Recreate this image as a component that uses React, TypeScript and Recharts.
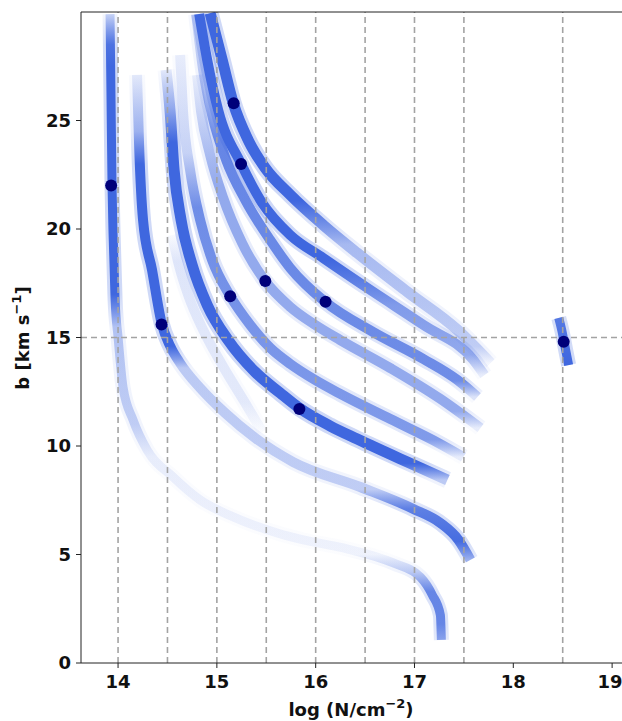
import { ComposedChart, Line, Scatter, XAxis, YAxis, ReferenceLine } from 'recharts'

// log N (x) vs b (y) along each posterior band
const bandA = [[13.919, 29.9], [13.929, 25.94], [13.939, 22.03], [13.949, 19.86], [13.97, 16.73], [14.0, 15.02], [14.05, 12.72], [14.152, 11.2], [14.294, 9.82], [14.557, 8.57], [14.831, 7.51], [15.165, 6.73], [15.611, 5.99], [15.874, 5.67], [16.28, 5.3], [16.786, 4.61], [17.06, 3.96], [17.181, 3.13], [17.262, 2.21], [17.272, 1.06]]
const bandB = [[14.192, 27.1], [14.213, 23.87], [14.253, 20.41], [14.344, 18.11], [14.443, 15.62], [14.527, 14.61], [14.628, 13.82], [14.831, 12.67], [15.084, 11.52], [15.388, 10.37], [15.773, 9.26], [16.452, 8.11], [16.989, 7.1], [17.262, 6.45], [17.445, 5.67], [17.566, 4.75]]
const bandG = [[14.547, 19.72], [14.608, 18.48], [14.709, 16.96], [14.861, 15.35], [15.054, 13.73], [15.287, 11.98], [15.459, 10.65]]
const bandH = [[14.486, 27.33], [14.527, 25.39], [14.567, 22.72], [14.638, 20.41], [14.75, 18.34], [14.902, 16.5], [15.114, 14.88], [15.388, 13.41], [15.641, 12.44], [15.834, 11.75], [16.148, 10.92], [16.421, 10.32], [16.928, 9.26], [17.333, 8.43]]
const bandU5 = [[14.628, 28.02], [14.658, 25.39], [14.729, 22.72], [14.831, 20.41], [14.952, 18.57], [15.135, 16.91], [15.337, 15.58], [15.54, 14.52], [15.743, 13.78], [15.995, 13.04], [16.249, 12.4], [16.756, 11.24], [17.262, 10.09], [17.495, 9.49]]
const bandU4 = [[14.8, 27.1], [14.841, 25.39], [14.932, 23.41], [15.064, 21.43], [15.256, 19.35], [15.489, 17.6], [15.743, 16.41], [15.995, 15.58], [16.249, 14.88], [16.756, 13.59], [17.262, 12.17], [17.668, 10.83]]
const bandF = [[14.79, 29.9], [14.861, 27.33], [14.952, 25.25], [15.094, 23.18], [15.287, 21.34], [15.54, 19.49], [15.743, 18.2], [16.097, 16.64], [16.583, 15.25], [17.09, 14.01], [17.435, 13.04], [17.637, 12.26]]
const bandE = [[14.821, 29.91], [14.902, 27.79], [15.013, 25.48], [15.246, 23.0], [15.459, 21.2], [15.743, 19.72], [16.077, 18.66], [16.583, 17.1], [17.09, 15.58], [17.597, 13.96], [17.708, 13.27]]
const bandD = [[14.932, 29.95], [15.054, 27.79], [15.165, 25.81], [15.317, 24.1], [15.489, 22.81], [15.743, 21.57], [16.077, 20.18], [16.421, 18.89], [16.928, 17.1], [17.435, 15.35], [17.769, 13.82]]
const blob = [[18.46, 15.9], [18.49, 15.35], [18.53, 14.42], [18.56, 13.73]]

// true values (navy dots)
const dotN = [13.93, 14.44, 15.135, 15.17, 15.245, 15.49, 15.835, 16.1, 18.51]
const dotB = [22.0, 15.6, 16.9, 25.8, 23.0, 17.6, 11.7, 16.65, 14.8]

const xTicks = [14, 15, 16, 17, 18, 19]
const yTicks = [0, 5, 10, 15, 20, 25]
const guideN = [14, 14.5, 15, 15.5, 16, 16.5, 17, 17.5, 18.5]
const guideB = [15]

const BLUE = '#3f67df'
const GUIDE = '#a3a3a3'
const FONT = 'DejaVu Sans'

// how dense each band looks, as [b, opacity] stops down the band
const bands = [
  { id: 'A', data: bandA, w: 9, fade: [[29.9, 0.25], [28.5, 0.9], [27.5, 1], [17, 1], [15.5, 0.35], [11, 0.28], [9.5, 0.1], [5, 0.07], [4.2, 0.3], [3.3, 0.75], [1.8, 0.75], [1.06, 0.55]] },
  { id: 'B', data: bandB, w: 10, fade: [[27.1, 0.12], [24.5, 0.45], [23, 1], [14.6, 1], [13.6, 0.3], [8, 0.28], [7.1, 0.8], [5.6, 0.95], [4.75, 0.45]] },
  { id: 'G', data: bandG, w: 10, fade: [[19.72, 0.03], [18.5, 0.14], [12, 0.12], [10.65, 0.02]] },
  { id: 'H', data: bandH, w: 11, fade: [[27.33, 0.12], [25.6, 0.5], [24, 1], [9.2, 1], [8.43, 0.3]] },
  { id: 'U5', data: bandU5, w: 10, fade: [[28.02, 0.1], [23.5, 0.25], [21, 0.7], [10.3, 0.6], [9.49, 0.1]] },
  { id: 'U4', data: bandU4, w: 10, fade: [[27.1, 0.1], [24.5, 0.3], [22, 0.5], [11.6, 0.5], [10.83, 0.1]] },
  { id: 'F', data: bandF, w: 10, fade: [[29.9, 0.2], [26.5, 0.35], [24, 0.75], [13, 0.7], [12.26, 0.15]] },
  { id: 'E', data: bandE, w: 10, fade: [[29.91, 1], [18.6, 1], [16.5, 0.6], [14.2, 0.5], [13.27, 0.1]] },
  { id: 'D', data: bandD, w: 11, fade: [[29.95, 1], [21.3, 1], [19.3, 0.4], [14.6, 0.28], [13.82, 0.05]] },
  { id: 'blob', data: blob, w: 9, fade: [[15.9, 0.85], [13.73, 1]] },
]

const toPts = (arr: number[][]) => arr.map(([n, b]) => ({ n, b }))
const dots = dotN.map((n, i) => ({ n, b: dotB[i] }))

function BandGradients() {
  return (
    <svg width={0} height={0} style={{ position: 'absolute' }}>
      <defs>
        {bands.map((s) => {
          const top = s.data[0][1]
          const bottom = s.data[s.data.length - 1][1]
          return (
            <linearGradient key={s.id} id={'grad' + s.id} x1="0" y1="0" x2="0" y2="1">
              {s.fade.map(([b, op], i) => (
                <stop key={i} offset={(top - b) / (top - bottom)} stopColor={BLUE} stopOpacity={op} />
              ))}
            </linearGradient>
          )
        })}
      </defs>
    </svg>
  )
}

const tickStyle = { fill: '#111', fontSize: 18, fontWeight: 'bold', fontFamily: FONT }

function XTick(props: any) {
  const { x, y, payload } = props
  const shift = payload.value === 19 ? -2 : 0
  return (
    <text x={x + shift} y={y} dy="0.71em" textAnchor="middle" {...tickStyle}>
      {payload.value}
    </text>
  )
}

function XTitle() {
  return (
    <text x={351} y={716} textAnchor="middle" fontFamily={FONT} fontWeight="bold" fontSize={18} fill="#111">
      log (N/cm<tspan dy={-8} fontSize={13}>−2</tspan>
      <tspan dy={8}>)</tspan>
    </text>
  )
}

function YTitle() {
  return (
    <text
      x={29}
      y={338}
      transform="rotate(-90, 29, 338)"
      textAnchor="middle"
      fontFamily={FONT}
      fontWeight="bold"
      fontSize={18}
      fill="#111"
    >
      b [km s<tspan dy={-8} fontSize={13}>−1</tspan>
      <tspan dy={8}>]</tspan>
    </text>
  )
}

export default function App() {
  return (
    <div style={{ position: 'absolute', left: 0, top: 0, width: 622, height: 721, background: '#fff' }}>
      <BandGradients />
      <ComposedChart width={622} height={721} margin={{ top: 12, right: 0, bottom: 0, left: 0 }}>
        <XAxis
          dataKey="n"
          type="number"
          domain={[13.625, 19.1]}
          allowDataOverflow
          ticks={xTicks}
          height={58}
          tickSize={5}
          tickMargin={7}
          stroke="#222"
          tick={<XTick />}
          label={{ content: () => <XTitle /> }}
        />
        <YAxis
          dataKey="b"
          type="number"
          domain={[0, 30]}
          allowDataOverflow
          ticks={yTicks}
          width={81}
          tickSize={5}
          tickMargin={5}
          stroke="#222"
          tick={tickStyle}
          label={{ content: () => <YTitle /> }}
        />
        {bands.map((s) => (
          <Line
            key={s.id + '-halo'}
            data={toPts(s.data)}
            dataKey="b"
            type="monotone"
            stroke={`url(#grad${s.id})`}
            strokeOpacity={0.25}
            strokeWidth={s.w + 6}
            dot={false}
            activeDot={false}
            isAnimationActive={false}
          />
        ))}
        {bands.map((s) => (
          <Line
            key={s.id}
            data={toPts(s.data)}
            dataKey="b"
            type="monotone"
            stroke={`url(#grad${s.id})`}
            strokeWidth={s.w}
            dot={false}
            activeDot={false}
            isAnimationActive={false}
          />
        ))}
        {guideN.map((v) => (
          <ReferenceLine key={'vx' + v} x={v} stroke={GUIDE} strokeWidth={1.6} strokeDasharray="6 4" />
        ))}
        {guideB.map((v) => (
          <ReferenceLine key={'hy' + v} y={v} stroke={GUIDE} strokeWidth={1.6} strokeDasharray="6 4" />
        ))}
        <ReferenceLine y={30} stroke="#222" strokeWidth={1} />
        <Scatter
          data={dots}
          dataKey="b"
          isAnimationActive={false}
          shape={(p: any) => <circle cx={p.cx} cy={p.cy} r={6} fill="#00007a" />}
        />
      </ComposedChart>
    </div>
  )
}
